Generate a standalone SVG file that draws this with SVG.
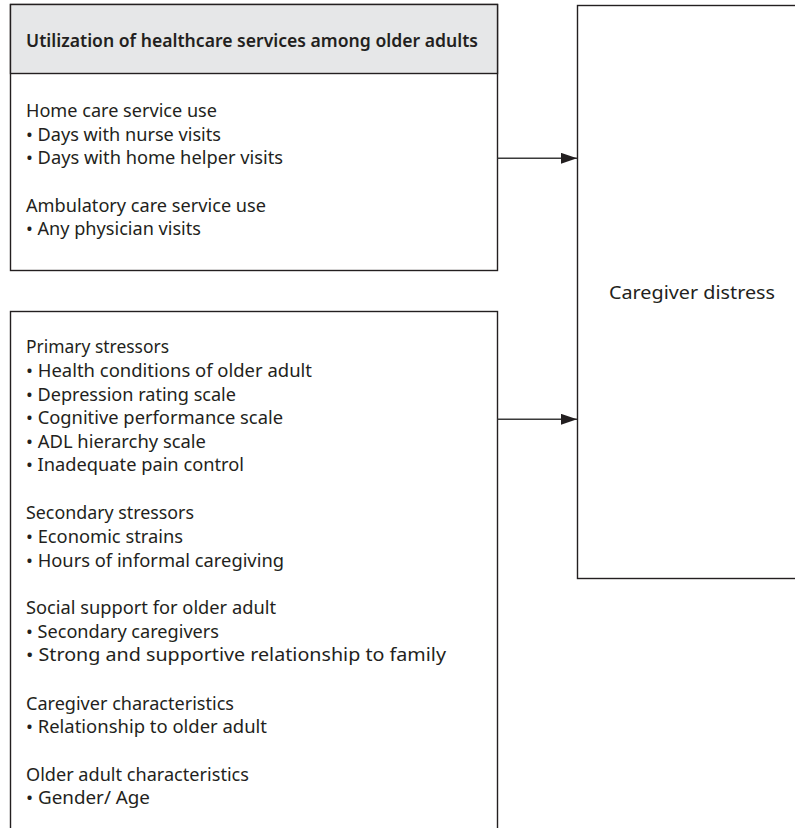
<svg xmlns="http://www.w3.org/2000/svg" width="795" height="828" viewBox="0 0 795 828">
<style>
.box{fill:#fff;stroke:#231f20;stroke-width:1.4}
.hdr{fill:#e6e7e8;stroke:#231f20;stroke-width:1.4}
text{font-family:"Noto Sans","Open Sans","Liberation Sans",sans-serif;font-size:18px;fill:#231f20}
.b{font-weight:600}
.conn{stroke:#3a3a3a;stroke-width:1.4;fill:none}
</style>
<defs>
<marker id="ah" markerUnits="userSpaceOnUse" markerWidth="16" markerHeight="12" refX="16" refY="5.5" orient="auto">
<path d="M0,0 L16,5.5 L0,11 Z" fill="#231f20"/>
</marker>
</defs>
<rect width="795" height="828" fill="#fff"/>
<g id="services">
<rect class="box" x="10.5" y="4.5" width="487" height="266"/>
<rect class="hdr" x="10.5" y="4.5" width="487" height="69"/>
<text class="b" x="26" y="46.5" textLength="452" lengthAdjust="spacingAndGlyphs">Utilization of healthcare services among older adults</text>
<text x="26" y="117" textLength="191" lengthAdjust="spacingAndGlyphs">Home care service use</text>
<text x="26" y="140.5" textLength="195" lengthAdjust="spacingAndGlyphs">• Days with nurse visits</text>
<text x="26" y="164" textLength="257" lengthAdjust="spacingAndGlyphs">• Days with home helper visits</text>
<text x="26" y="211.5" textLength="240" lengthAdjust="spacingAndGlyphs">Ambulatory care service use</text>
<text x="26" y="235" textLength="175" lengthAdjust="spacingAndGlyphs">• Any physician visits</text>
</g>
<g id="stressors">
<rect class="box" x="10.5" y="311.5" width="487" height="530"/>
<text x="26" y="353.3" textLength="143" lengthAdjust="spacingAndGlyphs">Primary stressors</text>
<text x="26" y="377" textLength="286" lengthAdjust="spacingAndGlyphs">• Health conditions of older adult</text>
<text x="26" y="400.5" textLength="210" lengthAdjust="spacingAndGlyphs">• Depression rating scale</text>
<text x="26" y="424" textLength="257" lengthAdjust="spacingAndGlyphs">• Cognitive performance scale</text>
<text x="26" y="447.5" textLength="180" lengthAdjust="spacingAndGlyphs">• ADL hierarchy scale</text>
<text x="26" y="471" textLength="218" lengthAdjust="spacingAndGlyphs">• Inadequate pain control</text>
<text x="26" y="518.5" textLength="168" lengthAdjust="spacingAndGlyphs">Secondary stressors</text>
<text x="26" y="542.5" textLength="157" lengthAdjust="spacingAndGlyphs">• Economic strains</text>
<text x="26" y="566.5" textLength="258" lengthAdjust="spacingAndGlyphs">• Hours of informal caregiving</text>
<text x="26" y="614" textLength="250" lengthAdjust="spacingAndGlyphs">Social support for older adult</text>
<text x="26" y="637.5" textLength="193" lengthAdjust="spacingAndGlyphs">• Secondary caregivers</text>
<text x="26" y="661" textLength="420" lengthAdjust="spacingAndGlyphs">• Strong and supportive relationship to family</text>
<text x="26" y="709.5" textLength="208" lengthAdjust="spacingAndGlyphs">Caregiver characteristics</text>
<text x="26" y="733" textLength="241" lengthAdjust="spacingAndGlyphs">• Relationship to older adult</text>
<text x="26" y="780.5" textLength="223" lengthAdjust="spacingAndGlyphs">Older adult characteristics</text>
<text x="26" y="804" textLength="124" lengthAdjust="spacingAndGlyphs">• Gender/ Age</text>
</g>
<g id="distress">
<rect class="box" x="577.5" y="5.5" width="240" height="573"/>
<text x="609" y="299.3" textLength="166" lengthAdjust="spacingAndGlyphs">Caregiver distress</text>
</g>
<g id="connectors">
<line class="conn" x1="497.5" y1="158.3" x2="577" y2="158.3" marker-end="url(#ah)"/>
<line class="conn" x1="497.5" y1="419.3" x2="577" y2="419.3" marker-end="url(#ah)"/>
</g>
</svg>
